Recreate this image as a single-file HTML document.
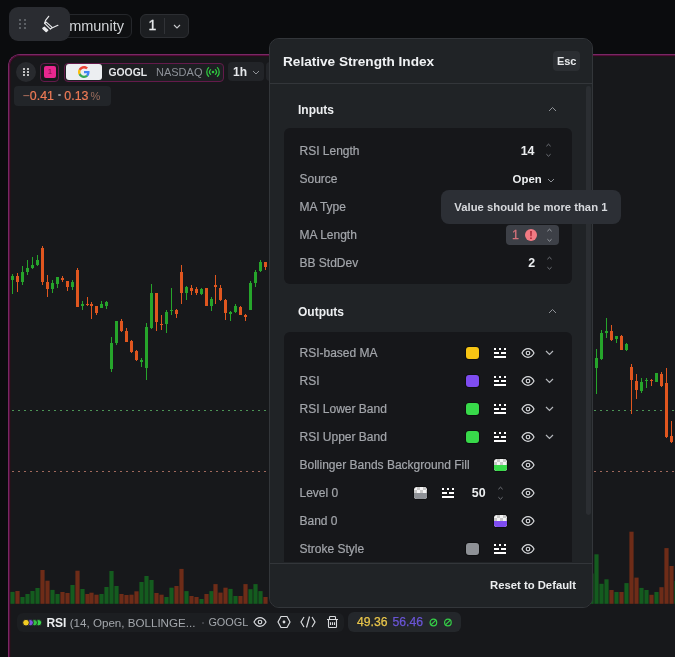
<!DOCTYPE html>
<html><head><meta charset="utf-8"><title>Relative Strength Index</title>
<style>
*{box-sizing:border-box;margin:0;padding:0}
html,body{width:675px;height:657px;overflow:hidden;background:#0b0c0e;font-family:"Liberation Sans",Arial,sans-serif;color:#d1d4d8}
.abs{position:absolute}
.panel{position:absolute;left:8px;top:54px;width:720px;height:640px;border-left:1px solid #7a2864;border-top:1px solid #7a2864;border-radius:12px 0 0 0;background:#17181b}
.panel>div{position:absolute;left:0;top:0;right:0;bottom:0;border-left:1px solid #520c3a;border-top:1px solid #520c3a;border-radius:11px 0 0 0}
.panel>div>div{position:absolute;left:0;top:0;right:0;bottom:0;border-left:1px solid #221318;border-top:1px solid #221318;border-radius:10px 0 0 0}
.chart{position:absolute;left:0;top:0}
.tool{position:absolute;left:9px;top:7px;width:61px;height:34px;background:#2a2c31;border-radius:9px;z-index:5}
.gd{position:absolute;width:2px;height:2px;background:#6d7076;border-radius:1px}
.btn{position:absolute;border:1px solid #25272b;border-radius:6px;background:#0f1012}
.lbl{position:absolute;left:299.5px;font-size:12px;line-height:15px;color:#a3a6ab;white-space:nowrap;-webkit-text-stroke:0.2px #a3a6ab}
.val{position:absolute;font-size:12.4px;line-height:15px;font-weight:bold;color:#eceef0}
.ic{position:absolute;line-height:0}
.sw{position:absolute;width:12.5px;height:12.5px;border-radius:3px;overflow:hidden;box-shadow:0 0 0 1px rgba(0,0,0,.35)}
.chkbg{position:absolute;left:0;top:0;right:0;bottom:0;background-color:#f4f4f4;background-image:linear-gradient(45deg,#c9c9c9 25%,transparent 25%,transparent 75%,#c9c9c9 75%),linear-gradient(45deg,#c9c9c9 25%,transparent 25%,transparent 75%,#c9c9c9 75%);background-size:6px 6px;background-position:0 0,3px 3px}
.dlg{position:absolute;left:269px;top:38px;width:324px;height:570px;background:#202326;border:1px solid #33363a;border-radius:10px;overflow:hidden;z-index:10}
.card{position:absolute;left:283.5px;width:288px;background:#16171a;border-radius:6px}
.sec{position:absolute;left:298px;font-size:12px;font-weight:bold;color:#eef0f2;line-height:15px}
</style></head><body>
<div class="panel"><div><div></div></div></div>
<svg class="chart" width="675" height="657" viewBox="0 0 675 657" shape-rendering="crispEdges">
<line x1="11.8" y1="410.5" x2="675" y2="410.5" stroke="#4c9456" stroke-width="1" stroke-dasharray="2.2 3.8"/>
<line x1="11.8" y1="471.5" x2="675" y2="471.5" stroke="#a0685c" stroke-width="1" stroke-dasharray="2.2 3.8"/>
<rect x="10.4" y="591.9" width="4.2" height="11.9" fill="#145c1f" shape-rendering="auto"/>
<rect x="15.4" y="591.0" width="4.2" height="12.8" fill="#6e2c18" shape-rendering="auto"/>
<rect x="20.4" y="597.0" width="4.2" height="6.8" fill="#145c1f" shape-rendering="auto"/>
<rect x="25.4" y="594.0" width="4.2" height="9.8" fill="#145c1f" shape-rendering="auto"/>
<rect x="30.4" y="591.0" width="4.2" height="12.8" fill="#145c1f" shape-rendering="auto"/>
<rect x="35.4" y="588.0" width="4.2" height="15.8" fill="#145c1f" shape-rendering="auto"/>
<rect x="40.4" y="570.0" width="4.2" height="33.8" fill="#6e2c18" shape-rendering="auto"/>
<rect x="45.4" y="580.7" width="4.2" height="23.1" fill="#6e2c18" shape-rendering="auto"/>
<rect x="50.4" y="589.9" width="4.2" height="13.9" fill="#145c1f" shape-rendering="auto"/>
<rect x="55.4" y="594.0" width="4.2" height="9.8" fill="#145c1f" shape-rendering="auto"/>
<rect x="60.4" y="592.0" width="4.2" height="11.8" fill="#6e2c18" shape-rendering="auto"/>
<rect x="65.4" y="593.0" width="4.2" height="10.8" fill="#6e2c18" shape-rendering="auto"/>
<rect x="70.4" y="585.0" width="4.2" height="18.8" fill="#145c1f" shape-rendering="auto"/>
<rect x="75.4" y="570.7" width="4.2" height="33.1" fill="#6e2c18" shape-rendering="auto"/>
<rect x="80.4" y="589.0" width="4.2" height="14.8" fill="#145c1f" shape-rendering="auto"/>
<rect x="85.4" y="594.0" width="4.2" height="9.8" fill="#6e2c18" shape-rendering="auto"/>
<rect x="89.4" y="592.7" width="4.2" height="11.1" fill="#6e2c18" shape-rendering="auto"/>
<rect x="94.4" y="594.7" width="4.2" height="9.1" fill="#6e2c18" shape-rendering="auto"/>
<rect x="99.4" y="594.0" width="4.2" height="9.8" fill="#145c1f" shape-rendering="auto"/>
<rect x="104.4" y="587.0" width="4.2" height="16.8" fill="#145c1f" shape-rendering="auto"/>
<rect x="109.4" y="571.0" width="4.2" height="32.8" fill="#145c1f" shape-rendering="auto"/>
<rect x="114.4" y="586.0" width="4.2" height="17.8" fill="#145c1f" shape-rendering="auto"/>
<rect x="119.4" y="594.0" width="4.2" height="9.8" fill="#6e2c18" shape-rendering="auto"/>
<rect x="124.4" y="595.0" width="4.2" height="8.8" fill="#6e2c18" shape-rendering="auto"/>
<rect x="129.4" y="594.7" width="4.2" height="9.1" fill="#6e2c18" shape-rendering="auto"/>
<rect x="134.4" y="591.3" width="4.2" height="12.5" fill="#6e2c18" shape-rendering="auto"/>
<rect x="139.4" y="582.0" width="4.2" height="21.8" fill="#145c1f" shape-rendering="auto"/>
<rect x="144.4" y="576.0" width="4.2" height="27.8" fill="#145c1f" shape-rendering="auto"/>
<rect x="149.4" y="580.0" width="4.2" height="23.8" fill="#145c1f" shape-rendering="auto"/>
<rect x="154.4" y="593.0" width="4.2" height="10.8" fill="#6e2c18" shape-rendering="auto"/>
<rect x="159.4" y="594.7" width="4.2" height="9.1" fill="#6e2c18" shape-rendering="auto"/>
<rect x="164.4" y="597.0" width="4.2" height="6.8" fill="#145c1f" shape-rendering="auto"/>
<rect x="169.4" y="587.7" width="4.2" height="16.1" fill="#145c1f" shape-rendering="auto"/>
<rect x="174.4" y="586.0" width="4.2" height="17.8" fill="#6e2c18" shape-rendering="auto"/>
<rect x="179.4" y="568.9" width="4.2" height="34.9" fill="#6e2c18" shape-rendering="auto"/>
<rect x="184.4" y="591.1" width="4.2" height="12.7" fill="#145c1f" shape-rendering="auto"/>
<rect x="189.4" y="596.0" width="4.2" height="7.8" fill="#6e2c18" shape-rendering="auto"/>
<rect x="194.4" y="597.0" width="4.2" height="6.8" fill="#6e2c18" shape-rendering="auto"/>
<rect x="199.4" y="599.0" width="4.2" height="4.8" fill="#145c1f" shape-rendering="auto"/>
<rect x="204.4" y="594.0" width="4.2" height="9.8" fill="#6e2c18" shape-rendering="auto"/>
<rect x="209.4" y="591.1" width="4.2" height="12.7" fill="#145c1f" shape-rendering="auto"/>
<rect x="213.4" y="584.1" width="4.2" height="19.7" fill="#6e2c18" shape-rendering="auto"/>
<rect x="218.4" y="592.6" width="4.2" height="11.2" fill="#6e2c18" shape-rendering="auto"/>
<rect x="223.4" y="587.7" width="4.2" height="16.1" fill="#6e2c18" shape-rendering="auto"/>
<rect x="228.4" y="588.9" width="4.2" height="14.9" fill="#145c1f" shape-rendering="auto"/>
<rect x="233.4" y="596.0" width="4.2" height="7.8" fill="#145c1f" shape-rendering="auto"/>
<rect x="238.4" y="596.0" width="4.2" height="7.8" fill="#6e2c18" shape-rendering="auto"/>
<rect x="243.4" y="584.1" width="4.2" height="19.7" fill="#6e2c18" shape-rendering="auto"/>
<rect x="248.4" y="589.2" width="4.2" height="14.6" fill="#145c1f" shape-rendering="auto"/>
<rect x="253.4" y="584.1" width="4.2" height="19.7" fill="#145c1f" shape-rendering="auto"/>
<rect x="258.4" y="591.1" width="4.2" height="12.7" fill="#145c1f" shape-rendering="auto"/>
<rect x="263.4" y="597.0" width="4.2" height="6.8" fill="#6e2c18" shape-rendering="auto"/>
<rect x="589.4" y="573.5" width="4.2" height="30.3" fill="#145c1f" shape-rendering="auto"/>
<rect x="594.4" y="554.3" width="4.2" height="49.5" fill="#145c1f" shape-rendering="auto"/>
<rect x="599.4" y="583.8" width="4.2" height="20.0" fill="#145c1f" shape-rendering="auto"/>
<rect x="604.4" y="579.3" width="4.2" height="24.5" fill="#145c1f" shape-rendering="auto"/>
<rect x="609.4" y="590.0" width="4.2" height="13.8" fill="#6e2c18" shape-rendering="auto"/>
<rect x="614.4" y="592.0" width="4.2" height="11.8" fill="#145c1f" shape-rendering="auto"/>
<rect x="619.4" y="592.0" width="4.2" height="11.8" fill="#6e2c18" shape-rendering="auto"/>
<rect x="624.4" y="583.1" width="4.2" height="20.7" fill="#145c1f" shape-rendering="auto"/>
<rect x="629.4" y="531.7" width="4.2" height="72.1" fill="#6e2c18" shape-rendering="auto"/>
<rect x="634.4" y="577.6" width="4.2" height="26.2" fill="#6e2c18" shape-rendering="auto"/>
<rect x="639.4" y="587.9" width="4.2" height="15.9" fill="#145c1f" shape-rendering="auto"/>
<rect x="644.4" y="590.0" width="4.2" height="13.8" fill="#145c1f" shape-rendering="auto"/>
<rect x="649.4" y="594.8" width="4.2" height="9.0" fill="#6e2c18" shape-rendering="auto"/>
<rect x="654.4" y="592.0" width="4.2" height="11.8" fill="#145c1f" shape-rendering="auto"/>
<rect x="659.4" y="587.2" width="4.2" height="16.6" fill="#6e2c18" shape-rendering="auto"/>
<rect x="664.4" y="548.1" width="4.2" height="55.7" fill="#6e2c18" shape-rendering="auto"/>
<rect x="669.4" y="566.0" width="4.2" height="37.8" fill="#6e2c18" shape-rendering="auto"/>
<rect x="674.4" y="581.0" width="4.2" height="22.8" fill="#145c1f" shape-rendering="auto"/>
<rect x="12.0" y="273.7" width="1" height="20.2" fill="#26a52b"/>
<rect x="11.0" y="275.8" width="3" height="4.2" fill="#26a52b"/>
<rect x="17.0" y="273.1" width="1" height="18.7" fill="#e0561f"/>
<rect x="16.0" y="275.8" width="3" height="6.4" fill="#e0561f"/>
<rect x="22.0" y="266.2" width="1" height="18.7" fill="#26a52b"/>
<rect x="21.0" y="272.0" width="3" height="10.0" fill="#26a52b"/>
<rect x="27.0" y="260.2" width="1" height="14.5" fill="#26a52b"/>
<rect x="26.0" y="267.8" width="3" height="4.2" fill="#26a52b"/>
<rect x="32.0" y="257.2" width="1" height="11.7" fill="#26a52b"/>
<rect x="31.0" y="264.6" width="3" height="3.5" fill="#26a52b"/>
<rect x="37.0" y="255.3" width="1" height="10.4" fill="#26a52b"/>
<rect x="36.0" y="259.8" width="3" height="5.4" fill="#26a52b"/>
<rect x="42.0" y="246.0" width="1" height="39.4" fill="#e0561f"/>
<rect x="41.0" y="247.6" width="3" height="34.6" fill="#e0561f"/>
<rect x="47.0" y="275.3" width="1" height="21.3" fill="#e0561f"/>
<rect x="46.0" y="282.0" width="3" height="6.6" fill="#e0561f"/>
<rect x="52.0" y="280.0" width="1" height="12.9" fill="#26a52b"/>
<rect x="51.0" y="282.7" width="3" height="5.9" fill="#26a52b"/>
<rect x="57.0" y="276.9" width="1" height="11.1" fill="#26a52b"/>
<rect x="56.0" y="277.4" width="3" height="6.4" fill="#26a52b"/>
<rect x="62.0" y="275.8" width="1" height="6.4" fill="#e0561f"/>
<rect x="61.0" y="277.9" width="3" height="2.1" fill="#e0561f"/>
<rect x="67.0" y="280.5" width="1" height="10.5" fill="#e0561f"/>
<rect x="66.0" y="281.4" width="3" height="5.5" fill="#e0561f"/>
<rect x="72.0" y="280.0" width="1" height="9.7" fill="#26a52b"/>
<rect x="71.0" y="281.9" width="3" height="5.0" fill="#26a52b"/>
<rect x="77.0" y="268.2" width="1" height="38.8" fill="#e0561f"/>
<rect x="76.0" y="269.6" width="3" height="37.0" fill="#e0561f"/>
<rect x="82.0" y="301.0" width="1" height="8.7" fill="#26a52b"/>
<rect x="81.0" y="303.8" width="3" height="2.3" fill="#26a52b"/>
<rect x="87.0" y="297.0" width="1" height="9.0" fill="#e0561f"/>
<rect x="86.0" y="303.8" width="3" height="1.4" fill="#e0561f"/>
<rect x="91.0" y="302.4" width="1" height="16.5" fill="#e0561f"/>
<rect x="90.0" y="304.3" width="3" height="1.3" fill="#e0561f"/>
<rect x="96.0" y="305.6" width="1" height="9.2" fill="#e0561f"/>
<rect x="95.0" y="306.1" width="3" height="6.4" fill="#e0561f"/>
<rect x="101.0" y="301.0" width="1" height="6.9" fill="#26a52b"/>
<rect x="100.0" y="304.3" width="3" height="3.2" fill="#26a52b"/>
<rect x="106.0" y="301.0" width="1" height="7.8" fill="#26a52b"/>
<rect x="105.0" y="302.0" width="3" height="4.1" fill="#26a52b"/>
<rect x="111.0" y="337.0" width="1" height="34.9" fill="#26a52b"/>
<rect x="110.0" y="342.5" width="3" height="26.7" fill="#26a52b"/>
<rect x="116.0" y="320.5" width="1" height="24.7" fill="#26a52b"/>
<rect x="115.0" y="320.5" width="3" height="22.7" fill="#26a52b"/>
<rect x="121.0" y="319.2" width="1" height="13.0" fill="#e0561f"/>
<rect x="120.0" y="320.5" width="3" height="10.3" fill="#e0561f"/>
<rect x="126.0" y="328.0" width="1" height="13.8" fill="#e0561f"/>
<rect x="125.0" y="330.8" width="3" height="11.0" fill="#e0561f"/>
<rect x="131.0" y="340.4" width="1" height="12.3" fill="#e0561f"/>
<rect x="130.0" y="341.1" width="3" height="10.9" fill="#e0561f"/>
<rect x="136.0" y="350.0" width="1" height="11.0" fill="#e0561f"/>
<rect x="135.0" y="351.4" width="3" height="8.9" fill="#e0561f"/>
<rect x="141.0" y="358.2" width="1" height="8.9" fill="#26a52b"/>
<rect x="140.0" y="360.3" width="3" height="1.2" fill="#26a52b"/>
<rect x="146.0" y="323.3" width="1" height="56.2" fill="#26a52b"/>
<rect x="145.0" y="326.7" width="3" height="41.1" fill="#26a52b"/>
<rect x="151.0" y="283.9" width="1" height="45.0" fill="#26a52b"/>
<rect x="150.0" y="292.7" width="3" height="35.5" fill="#26a52b"/>
<rect x="156.0" y="292.7" width="1" height="38.1" fill="#e0561f"/>
<rect x="155.0" y="293.3" width="3" height="29.1" fill="#e0561f"/>
<rect x="161.0" y="314.7" width="1" height="14.8" fill="#e0561f"/>
<rect x="160.0" y="323.7" width="3" height="1.3" fill="#e0561f"/>
<rect x="166.0" y="309.7" width="1" height="23.1" fill="#26a52b"/>
<rect x="165.0" y="311.8" width="3" height="11.9" fill="#26a52b"/>
<rect x="171.0" y="287.9" width="1" height="26.8" fill="#26a52b"/>
<rect x="170.0" y="309.7" width="3" height="1.2" fill="#26a52b"/>
<rect x="176.0" y="308.8" width="1" height="9.1" fill="#e0561f"/>
<rect x="175.0" y="310.1" width="3" height="3.9" fill="#e0561f"/>
<rect x="181.0" y="264.9" width="1" height="38.8" fill="#e0561f"/>
<rect x="180.0" y="272.0" width="3" height="20.7" fill="#e0561f"/>
<rect x="186.0" y="286.2" width="1" height="13.6" fill="#26a52b"/>
<rect x="185.0" y="286.9" width="3" height="6.4" fill="#26a52b"/>
<rect x="191.0" y="284.7" width="1" height="9.9" fill="#e0561f"/>
<rect x="190.0" y="288.1" width="3" height="2.6" fill="#e0561f"/>
<rect x="196.0" y="286.9" width="1" height="8.4" fill="#e0561f"/>
<rect x="195.0" y="288.8" width="3" height="4.5" fill="#e0561f"/>
<rect x="201.0" y="288.1" width="1" height="6.5" fill="#26a52b"/>
<rect x="200.0" y="288.8" width="3" height="5.5" fill="#26a52b"/>
<rect x="206.0" y="287.5" width="1" height="18.8" fill="#e0561f"/>
<rect x="205.0" y="287.9" width="3" height="17.7" fill="#e0561f"/>
<rect x="211.0" y="297.2" width="1" height="13.6" fill="#26a52b"/>
<rect x="210.0" y="298.9" width="3" height="7.0" fill="#26a52b"/>
<rect x="215.0" y="275.2" width="1" height="28.5" fill="#e0561f"/>
<rect x="214.0" y="284.7" width="3" height="2.2" fill="#e0561f"/>
<rect x="220.0" y="284.9" width="1" height="16.1" fill="#e0561f"/>
<rect x="219.0" y="287.9" width="3" height="12.3" fill="#e0561f"/>
<rect x="225.0" y="298.5" width="1" height="21.3" fill="#e0561f"/>
<rect x="224.0" y="299.8" width="3" height="12.9" fill="#e0561f"/>
<rect x="230.0" y="311.4" width="1" height="9.1" fill="#26a52b"/>
<rect x="229.0" y="312.1" width="3" height="1.5" fill="#26a52b"/>
<rect x="235.0" y="304.3" width="1" height="9.1" fill="#26a52b"/>
<rect x="234.0" y="305.6" width="3" height="6.5" fill="#26a52b"/>
<rect x="240.0" y="305.9" width="1" height="9.4" fill="#e0561f"/>
<rect x="239.0" y="306.5" width="3" height="8.2" fill="#e0561f"/>
<rect x="245.0" y="314.0" width="1" height="6.5" fill="#e0561f"/>
<rect x="244.0" y="315.3" width="3" height="1.9" fill="#e0561f"/>
<rect x="250.0" y="281.0" width="1" height="29.1" fill="#26a52b"/>
<rect x="249.0" y="282.5" width="3" height="27.2" fill="#26a52b"/>
<rect x="255.0" y="270.2" width="1" height="16.8" fill="#26a52b"/>
<rect x="254.0" y="271.5" width="3" height="11.5" fill="#26a52b"/>
<rect x="260.0" y="260.1" width="1" height="11.9" fill="#26a52b"/>
<rect x="259.0" y="261.7" width="3" height="9.4" fill="#26a52b"/>
<rect x="265.0" y="262.0" width="1" height="8.2" fill="#e0561f"/>
<rect x="264.0" y="262.0" width="3" height="5.4" fill="#e0561f"/>
<rect x="596.0" y="349.3" width="1" height="45.1" fill="#26a52b"/>
<rect x="595.0" y="357.7" width="3" height="10.0" fill="#26a52b"/>
<rect x="601.0" y="330.0" width="1" height="30.2" fill="#26a52b"/>
<rect x="600.0" y="332.6" width="3" height="25.9" fill="#26a52b"/>
<rect x="606.0" y="318.4" width="1" height="20.0" fill="#26a52b"/>
<rect x="605.0" y="330.9" width="3" height="2.5" fill="#26a52b"/>
<rect x="611.0" y="325.0" width="1" height="16.0" fill="#e0561f"/>
<rect x="610.0" y="330.9" width="3" height="9.2" fill="#e0561f"/>
<rect x="616.0" y="336.0" width="1" height="6.6" fill="#26a52b"/>
<rect x="615.0" y="336.4" width="3" height="2.9" fill="#26a52b"/>
<rect x="621.0" y="335.0" width="1" height="15.1" fill="#e0561f"/>
<rect x="620.0" y="335.9" width="3" height="14.2" fill="#e0561f"/>
<rect x="626.0" y="342.6" width="1" height="8.4" fill="#26a52b"/>
<rect x="625.0" y="344.3" width="3" height="5.8" fill="#26a52b"/>
<rect x="631.0" y="364.2" width="1" height="49.4" fill="#e0561f"/>
<rect x="630.0" y="366.8" width="3" height="13.3" fill="#e0561f"/>
<rect x="636.0" y="374.3" width="1" height="24.2" fill="#e0561f"/>
<rect x="635.0" y="381.0" width="3" height="9.2" fill="#e0561f"/>
<rect x="641.0" y="378.1" width="1" height="14.6" fill="#26a52b"/>
<rect x="640.0" y="381.8" width="3" height="9.2" fill="#26a52b"/>
<rect x="646.0" y="378.1" width="1" height="9.6" fill="#26a52b"/>
<rect x="645.0" y="380.1" width="3" height="1.2" fill="#26a52b"/>
<rect x="651.0" y="378.8" width="1" height="6.7" fill="#e0561f"/>
<rect x="650.0" y="379.8" width="3" height="1.2" fill="#e0561f"/>
<rect x="656.0" y="372.6" width="1" height="9.2" fill="#26a52b"/>
<rect x="655.0" y="373.4" width="3" height="8.4" fill="#26a52b"/>
<rect x="661.0" y="372.1" width="1" height="14.7" fill="#e0561f"/>
<rect x="660.0" y="374.3" width="3" height="11.7" fill="#e0561f"/>
<rect x="666.0" y="368.1" width="1" height="69.7" fill="#e0561f"/>
<rect x="665.0" y="382.6" width="3" height="54.4" fill="#e0561f"/>
<rect x="671.0" y="421.1" width="1" height="21.7" fill="#e0561f"/>
<rect x="670.0" y="436.2" width="3" height="6.1" fill="#e0561f"/>
</svg>
<!-- top toolbar -->
<div class="btn" style="left:40px;top:14px;width:92px;height:23.5px"></div>
<div class="abs" style="left:50.6px;top:17.5px;font-size:14.5px;line-height:17px;color:#d2d5d8">Community</div>
<div class="btn" style="left:140px;top:14px;width:48.6px;height:23.6px;background:#1c1e21;border-color:#2c2e32"></div>
<div class="abs" style="left:148.5px;top:17px;font-size:14px;line-height:17px;color:#e6e8ea;-webkit-text-stroke:0.3px #e6e8ea">1</div>
<div class="abs" style="left:164.3px;top:17.8px;width:1px;height:16px;background:#313337"></div>
<div class="ic" style="left:173px;top:23.6px"><svg width="8" height="5" viewBox="0 0 8 5"><path d="M1 1 L4 4 L7 1" fill="none" stroke="#c8cacd" stroke-width="1.1"/></svg></div>
<div class="tool">
 <div class="gd" style="left:10px;top:12px"></div><div class="gd" style="left:14.5px;top:12px"></div>
 <div class="gd" style="left:10px;top:16px"></div><div class="gd" style="left:14.5px;top:16px"></div>
 <div class="gd" style="left:10px;top:20px"></div><div class="gd" style="left:14.5px;top:20px"></div>
 <svg class="abs" style="left:27px;top:3px" width="28" height="28" viewBox="0 0 28 28" fill="none" stroke="#e8e9eb" stroke-width="1.2" stroke-linejoin="round" stroke-linecap="round">
  <path d="M12.7 6.3 L9.6 10.4 L8.7 13.3"/>
  <path d="M8.7 13.3 L10.2 12.1 L16.2 17.4 L14.5 19.1 Z"/>
  <path d="M16.4 17.8 L21.9 15.3"/>
  <path d="M6.9 18.4 L8.4 17.2 L11.7 20.3 L10.1 21.6 Z" fill="#f2f3f4" stroke-width="1.4"/>
 </svg>
</div>
<!-- chart header -->
<div class="abs" style="left:16px;top:62px;width:20px;height:20px;border-radius:50%;background:#282a2e"></div>
<div class="gd" style="left:23.3px;top:67.8px;background:#f4f4f5"></div><div class="gd" style="left:26.5px;top:67.8px;background:#f4f4f5"></div>
<div class="gd" style="left:23.3px;top:71px;background:#f4f4f5"></div><div class="gd" style="left:26.5px;top:71px;background:#f4f4f5"></div>
<div class="gd" style="left:23.3px;top:74.2px;background:#f4f4f5"></div><div class="gd" style="left:26.5px;top:74.2px;background:#f4f4f5"></div>
<div class="abs" style="left:40.3px;top:62.5px;width:19px;height:19px;border:1px solid #641a4b;border-radius:4px;background:#17181b"></div>
<div class="abs" style="left:44px;top:65.8px;width:12px;height:12.2px;border-radius:2px;background:#e8278f;color:#7a0f45;font-size:8px;line-height:12px;text-align:center">1</div>
<div class="abs" style="left:64.4px;top:62.5px;width:159.2px;height:19.2px;border:1px solid #641a4b;border-radius:4px;background:#1d1f22"></div>
<div class="abs" style="left:66.2px;top:63.9px;width:35.6px;height:16px;border-radius:3px;background:#eceef1"></div>
<svg class="abs" style="left:78px;top:65.5px" width="12" height="12" viewBox="0 0 48 48">
 <path fill="#EA4335" d="M24 9.5c3.5 0 6.6 1.2 9.1 3.6l6.8-6.8C35.8 2.4 30.3 0 24 0 14.6 0 6.6 5.4 2.7 13.3l7.9 6.1C12.5 13.6 17.8 9.5 24 9.5z"/>
 <path fill="#4285F4" d="M46.1 24.5c0-1.6-.1-3.1-.4-4.5H24v9h12.4c-.5 2.9-2.2 5.3-4.6 6.9l7.4 5.8c4.3-4 6.9-9.9 6.9-17.2z"/>
 <path fill="#FBBC05" d="M10.5 28.6c-.5-1.4-.8-3-.8-4.6s.3-3.2.8-4.6l-7.9-6.1C1 16.5 0 20.1 0 24s1 7.5 2.7 10.7l7.8-6.1z"/>
 <path fill="#34A853" d="M24 48c6.5 0 11.9-2.1 15.9-5.8l-7.4-5.8c-2.1 1.4-4.8 2.3-8.5 2.3-6.2 0-11.5-4.2-13.4-9.9l-7.9 6.1C6.6 42.6 14.6 48 24 48z"/>
</svg>
<div class="abs" style="left:108.4px;top:65px;font-size:10.4px;line-height:15px;font-weight:bold;color:#e6e8eb">GOOGL</div>
<div class="abs" style="left:156px;top:64.6px;font-size:11px;line-height:15px;color:#8d9198">NASDAQ</div>
<svg class="abs" style="left:206px;top:66px" width="14" height="12" viewBox="0 0 14 12" fill="none" stroke="#2fc53f" stroke-width="1.3" stroke-linecap="round">
 <circle cx="7" cy="6" r="1.3" fill="#2fc53f" stroke="none"/>
 <path d="M4.6 3.6 A3.4 3.4 0 0 0 4.6 8.4 M9.4 3.6 A3.4 3.4 0 0 1 9.4 8.4"/>
 <path d="M2.6 1.6 A6.2 6.2 0 0 0 2.6 10.4 M11.4 1.6 A6.2 6.2 0 0 1 11.4 10.4"/>
</svg>
<div class="abs" style="left:228.4px;top:62.3px;width:35.3px;height:19.2px;border-radius:4px;background:#222428"></div>
<div class="abs" style="left:233px;top:64.5px;font-size:12px;line-height:15px;font-weight:bold;color:#e6e8eb">1h</div>
<div class="ic" style="left:252px;top:70px"><svg width="8" height="5" viewBox="0 0 8 5"><path d="M1 1 L4 4 L7 1" fill="none" stroke="#8f9297" stroke-width="1"/></svg></div>
<div class="abs" style="left:266px;top:62.3px;width:10px;height:19.2px;border-radius:4px;background:#222428"></div>
<div class="abs" style="left:14.2px;top:86px;width:96.5px;height:19.7px;border-radius:4px;background:#222529"></div>
<div class="abs" style="left:22.6px;top:88.5px;font-size:12.4px;line-height:15px;color:#ef7b56;white-space:nowrap;-webkit-text-stroke:0.2px #ef7b56"><span style="color:#b77560;-webkit-text-stroke:0">−</span>0.41<span style="display:inline-block;width:2.6px;height:2.6px;border-radius:50%;background:#8d9095;margin:0 3.4px 0 4.4px;vertical-align:3.2px"></span>0.13<span style="color:#9b6d5d;margin-left:2px;-webkit-text-stroke:0;font-size:11px">%</span></div>

<!-- legend -->
<div class="abs" style="left:17px;top:612.5px;width:326.6px;height:19.2px;border-radius:6px;background:#1c1e21"></div>
<svg class="abs" style="left:21px;top:617.5px" width="24" height="10" viewBox="0 0 24 10">
 <circle cx="17.6" cy="4.7" r="3.1" fill="#3ad14a" stroke="#1c1e21" stroke-width="0.9"/><circle cx="13.4" cy="4.7" r="3.1" fill="#33c244" stroke="#1c1e21" stroke-width="0.9"/>
 <circle cx="9.3" cy="4.7" r="3.1" fill="#7e55e0" stroke="#1c1e21" stroke-width="0.9"/><circle cx="5" cy="4.7" r="3.3" fill="#f2cc23" stroke="#1c1e21" stroke-width="0.9"/>
</svg>
<div class="abs" style="left:46.4px;top:615px;font-size:12px;line-height:15px;white-space:nowrap"><b style="color:#eceef0">RSI</b> <span style="color:#a3a7ac;font-size:11.6px">(14, Open, BOLLINGE...</span></div>
<div class="abs" style="left:201.5px;top:621.5px;width:2px;height:2px;border-radius:1px;background:#4a4d52"></div>
<div class="abs" style="left:208.4px;top:615.3px;font-size:10.9px;line-height:15px;color:#a3a7ac">GOOGL</div>
<div class="ic" style="left:253px;top:617px"><svg width="14" height="10" viewBox="0 0 14 10"><path d="M1 5 C3 1.2 5 0.7 7 0.7 C9 0.7 11 1.2 13 5 C11 8.8 9 9.3 7 9.3 C5 9.3 3 8.8 1 5 Z" fill="none" stroke="#d9dbde" stroke-width="1.2"/><circle cx="7" cy="5" r="1.8" fill="none" stroke="#d9dbde" stroke-width="1.15"/></svg></div>
<svg class="abs" style="left:277px;top:615px" width="14" height="14" viewBox="0 0 14 14"><path d="M4 1.5 L10 1.5 L13 7 L10 12.5 L4 12.5 L1 7 Z" fill="none" stroke="#d9dbde" stroke-width="1.2"/><circle cx="7" cy="7" r="1.4" fill="#d9dbde"/></svg>
<svg class="abs" style="left:300px;top:615px" width="16" height="14" viewBox="0 0 16 14" fill="none" stroke="#d9dbde" stroke-width="1.2"><path d="M4 2 L1 7 L4 12 M12 2 L15 7 L12 12 M9.5 1.5 L6.5 12.5"/></svg>
<svg class="abs" style="left:326px;top:615px" width="13" height="14" viewBox="0 0 13 14" fill="none" stroke="#d9dbde" stroke-width="1.1" stroke-linejoin="round"><path d="M3.5 4.5 L3.5 2.3 Q3.5 1.5 4.3 1.5 L8.7 1.5 Q9.5 1.5 9.5 2.3 L9.5 4.5 M1 4.5 L12 4.5 M2.5 4.5 L2.5 11.7 Q2.5 12.5 3.3 12.5 L9.7 12.5 Q10.5 12.5 10.5 11.7 L10.5 4.5 M4.5 7.2 L4.5 10 M6.5 7.2 L6.5 10 M8.5 7.2 L8.5 10"/></svg>
<div class="abs" style="left:348.1px;top:612.3px;width:112.9px;height:19.3px;border-radius:6px;background:#24272b"></div>
<div class="abs" style="left:357px;top:615px;font-size:12.2px;line-height:15px;white-space:nowrap;-webkit-text-stroke:0.25px currentColor"><span style="color:#e8c54a;-webkit-text-stroke:0.25px #e8c54a">49.36</span> <span style="color:#6a55d6;margin-left:1.6px;-webkit-text-stroke:0.25px #6a55d6">56.46</span></div>
<svg class="abs" style="left:429px;top:617.5px" width="24" height="9" viewBox="0 0 24 9" fill="none" stroke="#35cf47" stroke-width="1.2"><circle cx="4.4" cy="4.5" r="3.3"/><path d="M2.2 6.7 L6.6 2.3"/><circle cx="18.9" cy="4.5" r="3.3"/><path d="M16.7 6.7 L21.1 2.3"/></svg>

<!-- dialog -->
<div class="dlg">
 <div class="abs" style="left:0;top:0;width:324px;height:45px;border-bottom:1px solid #33363a;background:#202326"></div>
 <div class="abs" style="left:0;top:524px;width:324px;height:46px;border-top:1px solid #33363a;background:#202326"></div>
 <div class="abs" style="left:316px;top:46.5px;width:4.8px;height:429px;border-radius:2.4px;background:#2b2e32"></div>
</div>
<div style="position:absolute;left:0;top:0;width:675px;height:657px;z-index:11;pointer-events:none">
 <div class="abs" style="left:283px;top:53px;font-size:13.6px;line-height:17px;font-weight:bold;color:#f0f2f4">Relative Strength Index</div>
 <div class="abs" style="left:553.2px;top:51.4px;width:27px;height:19.2px;border-radius:4px;background:#2b2e32;font-size:11px;line-height:20.5px;font-weight:bold;text-align:center;color:#e8eaec">Esc</div>
 <div class="sec" style="top:102.5px">Inputs</div>
 <div class="ic" style="left:547.5px;top:105.5px"><svg width="9" height="6" viewBox="0 0 9 6"><path d="M1 5 L4.5 1.5 L8 5" fill="none" stroke="#8f9297" stroke-width="1"/></svg></div>
 <div class="card" style="top:128.3px;height:156px"></div>
 <div class="lbl" style="top:144.0px">RSI Length</div><div class="lbl" style="top:172.0px">Source</div><div class="lbl" style="top:200.0px">MA Type</div><div class="lbl" style="top:228.0px">MA Length</div><div class="lbl" style="top:256.0px">BB StdDev</div>
 <div class="val" style="left:520.7px;top:143.6px">14</div>
 <div class="ic" style="left:545.3px;top:143.3px"><svg width="7" height="14" viewBox="0 0 7 14"><path d="M1.4 3.2 L3.5 1.2 L5.6 3.2 M1.4 11.2 L3.5 13.2 L5.6 11.2" fill="none" stroke="#7d8086" stroke-width="0.9"/></svg></div>
 <div class="val" style="left:512.6px;top:172px;font-size:11.4px">Open</div>
 <div class="ic" style="left:546.5px;top:177.5px"><svg width="8" height="5" viewBox="0 0 8 5"><path d="M1 1 L4 4 L7 1" fill="none" stroke="#8f9297" stroke-width="1"/></svg></div>
 <div class="abs" style="left:506px;top:225.3px;width:52.6px;height:19.8px;border-radius:4px;background:#3d4047"></div>
 <div class="abs" style="left:512px;top:227.8px;font-size:12.4px;line-height:15px;color:#d4727b;-webkit-text-stroke:0.3px #d4727b">1</div>
 <div class="abs" style="left:524.9px;top:229px;width:12.4px;height:12.4px;border-radius:50%;background:#f27a83;color:#a1202f;font-size:10.5px;line-height:12.4px;text-align:center;font-weight:bold">!</div>
 <div class="ic" style="left:545.5px;top:228px"><svg width="7" height="14" viewBox="0 0 7 14"><path d="M1.4 3.2 L3.5 1.2 L5.6 3.2 M1.4 11.2 L3.5 13.2 L5.6 11.2" fill="none" stroke="#a3a6ac" stroke-width="0.9"/></svg></div>
 <div class="val" style="left:528.3px;top:255.8px">2</div>
 <div class="ic" style="left:545.5px;top:255.5px"><svg width="7" height="14" viewBox="0 0 7 14"><path d="M1.4 3.2 L3.5 1.2 L5.6 3.2 M1.4 11.2 L3.5 13.2 L5.6 11.2" fill="none" stroke="#7d8086" stroke-width="0.9"/></svg></div>
 <div class="abs" style="left:441.3px;top:190.4px;width:180px;height:33.2px;border-radius:8px;background:#2c2f35;z-index:3"></div>
 <div class="abs" style="left:454.3px;top:200.3px;font-size:11.3px;line-height:15px;font-weight:bold;color:#d6d8dc;white-space:nowrap;z-index:4">Value should be more than 1</div>
 <div class="sec" style="top:304.5px">Outputs</div>
 <div class="ic" style="left:547.5px;top:308px"><svg width="9" height="6" viewBox="0 0 9 6"><path d="M1 5 L4.5 1.5 L8 5" fill="none" stroke="#8f9297" stroke-width="1"/></svg></div>
 <div class="card" style="top:332px;height:230px;border-radius:6px 6px 0 0"></div>
 <div class="lbl" style="top:346.3px">RSI-based MA</div><div class="sw" style="left:466px;top:346.6px;background:#f7c514"></div><div class="ic" style="left:494px;top:348px"><svg width="12" height="10" viewBox="0 0 12 10" shape-rendering="crispEdges"><rect x="0" y="0" width="2" height="2" fill="#fff"/><rect x="5" y="0" width="2" height="2" fill="#fff"/><rect x="10" y="0" width="2" height="2" fill="#fff"/><rect x="0" y="4" width="5" height="2" fill="#fff"/><rect x="7" y="4" width="5" height="2" fill="#fff"/><rect x="0" y="8" width="12" height="2" fill="#fff"/></svg></div><div class="ic" style="left:521px;top:348px"><svg width="14" height="10" viewBox="0 0 14 10"><path d="M1 5 C3 1.2 5 0.7 7 0.7 C9 0.7 11 1.2 13 5 C11 8.8 9 9.3 7 9.3 C5 9.3 3 8.8 1 5 Z" fill="none" stroke="#d9dbde" stroke-width="1.2"/><circle cx="7" cy="5" r="1.8" fill="none" stroke="#d9dbde" stroke-width="1.15"/></svg></div><div class="ic" style="left:544.5px;top:349.8px"><svg width="9" height="6" viewBox="0 0 9 6"><path d="M1 1 L4.5 4.5 L8 1" fill="none" stroke="#b4b7bb" stroke-width="1.2"/></svg></div><div class="lbl" style="top:374.3px">RSI</div><div class="sw" style="left:466px;top:374.6px;background:#7e4cf0"></div><div class="ic" style="left:494px;top:376px"><svg width="12" height="10" viewBox="0 0 12 10" shape-rendering="crispEdges"><rect x="0" y="0" width="2" height="2" fill="#fff"/><rect x="5" y="0" width="2" height="2" fill="#fff"/><rect x="10" y="0" width="2" height="2" fill="#fff"/><rect x="0" y="4" width="5" height="2" fill="#fff"/><rect x="7" y="4" width="5" height="2" fill="#fff"/><rect x="0" y="8" width="12" height="2" fill="#fff"/></svg></div><div class="ic" style="left:521px;top:376px"><svg width="14" height="10" viewBox="0 0 14 10"><path d="M1 5 C3 1.2 5 0.7 7 0.7 C9 0.7 11 1.2 13 5 C11 8.8 9 9.3 7 9.3 C5 9.3 3 8.8 1 5 Z" fill="none" stroke="#d9dbde" stroke-width="1.2"/><circle cx="7" cy="5" r="1.8" fill="none" stroke="#d9dbde" stroke-width="1.15"/></svg></div><div class="ic" style="left:544.5px;top:377.8px"><svg width="9" height="6" viewBox="0 0 9 6"><path d="M1 1 L4.5 4.5 L8 1" fill="none" stroke="#b4b7bb" stroke-width="1.2"/></svg></div><div class="lbl" style="top:402.3px">RSI Lower Band</div><div class="sw" style="left:466px;top:402.6px;background:#38d94a"></div><div class="ic" style="left:494px;top:404px"><svg width="12" height="10" viewBox="0 0 12 10" shape-rendering="crispEdges"><rect x="0" y="0" width="2" height="2" fill="#fff"/><rect x="5" y="0" width="2" height="2" fill="#fff"/><rect x="10" y="0" width="2" height="2" fill="#fff"/><rect x="0" y="4" width="5" height="2" fill="#fff"/><rect x="7" y="4" width="5" height="2" fill="#fff"/><rect x="0" y="8" width="12" height="2" fill="#fff"/></svg></div><div class="ic" style="left:521px;top:404px"><svg width="14" height="10" viewBox="0 0 14 10"><path d="M1 5 C3 1.2 5 0.7 7 0.7 C9 0.7 11 1.2 13 5 C11 8.8 9 9.3 7 9.3 C5 9.3 3 8.8 1 5 Z" fill="none" stroke="#d9dbde" stroke-width="1.2"/><circle cx="7" cy="5" r="1.8" fill="none" stroke="#d9dbde" stroke-width="1.15"/></svg></div><div class="ic" style="left:544.5px;top:405.8px"><svg width="9" height="6" viewBox="0 0 9 6"><path d="M1 1 L4.5 4.5 L8 1" fill="none" stroke="#b4b7bb" stroke-width="1.2"/></svg></div><div class="lbl" style="top:430.3px">RSI Upper Band</div><div class="sw" style="left:466px;top:430.6px;background:#38d94a"></div><div class="ic" style="left:494px;top:432px"><svg width="12" height="10" viewBox="0 0 12 10" shape-rendering="crispEdges"><rect x="0" y="0" width="2" height="2" fill="#fff"/><rect x="5" y="0" width="2" height="2" fill="#fff"/><rect x="10" y="0" width="2" height="2" fill="#fff"/><rect x="0" y="4" width="5" height="2" fill="#fff"/><rect x="7" y="4" width="5" height="2" fill="#fff"/><rect x="0" y="8" width="12" height="2" fill="#fff"/></svg></div><div class="ic" style="left:521px;top:432px"><svg width="14" height="10" viewBox="0 0 14 10"><path d="M1 5 C3 1.2 5 0.7 7 0.7 C9 0.7 11 1.2 13 5 C11 8.8 9 9.3 7 9.3 C5 9.3 3 8.8 1 5 Z" fill="none" stroke="#d9dbde" stroke-width="1.2"/><circle cx="7" cy="5" r="1.8" fill="none" stroke="#d9dbde" stroke-width="1.15"/></svg></div><div class="ic" style="left:544.5px;top:433.8px"><svg width="9" height="6" viewBox="0 0 9 6"><path d="M1 1 L4.5 4.5 L8 1" fill="none" stroke="#b4b7bb" stroke-width="1.2"/></svg></div><div class="lbl" style="top:458.3px">Bollinger Bands Background Fill</div><div class="sw chk" style="left:494px;top:458.6px"><div class="chkbg"></div><div style="position:absolute;left:0;right:0;bottom:0;height:50%;background:#38d94a"></div></div><div class="ic" style="left:521px;top:460px"><svg width="14" height="10" viewBox="0 0 14 10"><path d="M1 5 C3 1.2 5 0.7 7 0.7 C9 0.7 11 1.2 13 5 C11 8.8 9 9.3 7 9.3 C5 9.3 3 8.8 1 5 Z" fill="none" stroke="#d9dbde" stroke-width="1.2"/><circle cx="7" cy="5" r="1.8" fill="none" stroke="#d9dbde" stroke-width="1.15"/></svg></div><div class="lbl" style="top:486.3px">Level 0</div><div class="sw chk" style="left:414px;top:486.6px"><div class="chkbg"></div><div style="position:absolute;left:0;right:0;bottom:0;height:50%;background:#8e9196"></div></div><div class="ic" style="left:442px;top:488px"><svg width="12" height="10" viewBox="0 0 12 10" shape-rendering="crispEdges"><rect x="0" y="0" width="2" height="2" fill="#fff"/><rect x="5" y="0" width="2" height="2" fill="#fff"/><rect x="10" y="0" width="2" height="2" fill="#fff"/><rect x="0" y="4" width="5" height="2" fill="#fff"/><rect x="7" y="4" width="5" height="2" fill="#fff"/><rect x="0" y="8" width="12" height="2" fill="#fff"/></svg></div><div class="val" style="left:471.8px;top:486.2px">50</div><div class="ic" style="left:496.5px;top:485.8px"><svg width="7" height="14" viewBox="0 0 7 14"><path d="M1.4 3.2 L3.5 1.2 L5.6 3.2 M1.4 11.2 L3.5 13.2 L5.6 11.2" fill="none" stroke="#7d8086" stroke-width="0.9"/></svg></div><div class="ic" style="left:521px;top:488px"><svg width="14" height="10" viewBox="0 0 14 10"><path d="M1 5 C3 1.2 5 0.7 7 0.7 C9 0.7 11 1.2 13 5 C11 8.8 9 9.3 7 9.3 C5 9.3 3 8.8 1 5 Z" fill="none" stroke="#d9dbde" stroke-width="1.2"/><circle cx="7" cy="5" r="1.8" fill="none" stroke="#d9dbde" stroke-width="1.15"/></svg></div><div class="lbl" style="top:514.3px">Band 0</div><div class="sw chk" style="left:494px;top:514.5999999999999px"><div class="chkbg"></div><div style="position:absolute;left:0;right:0;bottom:0;height:50%;background:#7e4cf0"></div></div><div class="ic" style="left:521px;top:516px"><svg width="14" height="10" viewBox="0 0 14 10"><path d="M1 5 C3 1.2 5 0.7 7 0.7 C9 0.7 11 1.2 13 5 C11 8.8 9 9.3 7 9.3 C5 9.3 3 8.8 1 5 Z" fill="none" stroke="#d9dbde" stroke-width="1.2"/><circle cx="7" cy="5" r="1.8" fill="none" stroke="#d9dbde" stroke-width="1.15"/></svg></div><div class="lbl" style="top:542.3px">Stroke Style</div><div class="sw" style="left:466px;top:542.5999999999999px;background:#8e9196"></div><div class="ic" style="left:494px;top:544px"><svg width="12" height="10" viewBox="0 0 12 10" shape-rendering="crispEdges"><rect x="0" y="0" width="2" height="2" fill="#fff"/><rect x="5" y="0" width="2" height="2" fill="#fff"/><rect x="10" y="0" width="2" height="2" fill="#fff"/><rect x="0" y="4" width="5" height="2" fill="#fff"/><rect x="7" y="4" width="5" height="2" fill="#fff"/><rect x="0" y="8" width="12" height="2" fill="#fff"/></svg></div><div class="ic" style="left:521px;top:544px"><svg width="14" height="10" viewBox="0 0 14 10"><path d="M1 5 C3 1.2 5 0.7 7 0.7 C9 0.7 11 1.2 13 5 C11 8.8 9 9.3 7 9.3 C5 9.3 3 8.8 1 5 Z" fill="none" stroke="#d9dbde" stroke-width="1.2"/><circle cx="7" cy="5" r="1.8" fill="none" stroke="#d9dbde" stroke-width="1.15"/></svg></div>
 <div class="abs" style="left:440px;top:578px;width:136px;text-align:right;font-size:11.3px;line-height:15px;font-weight:bold;color:#eceef0">Reset to Default</div>
</div>
</body></html>
